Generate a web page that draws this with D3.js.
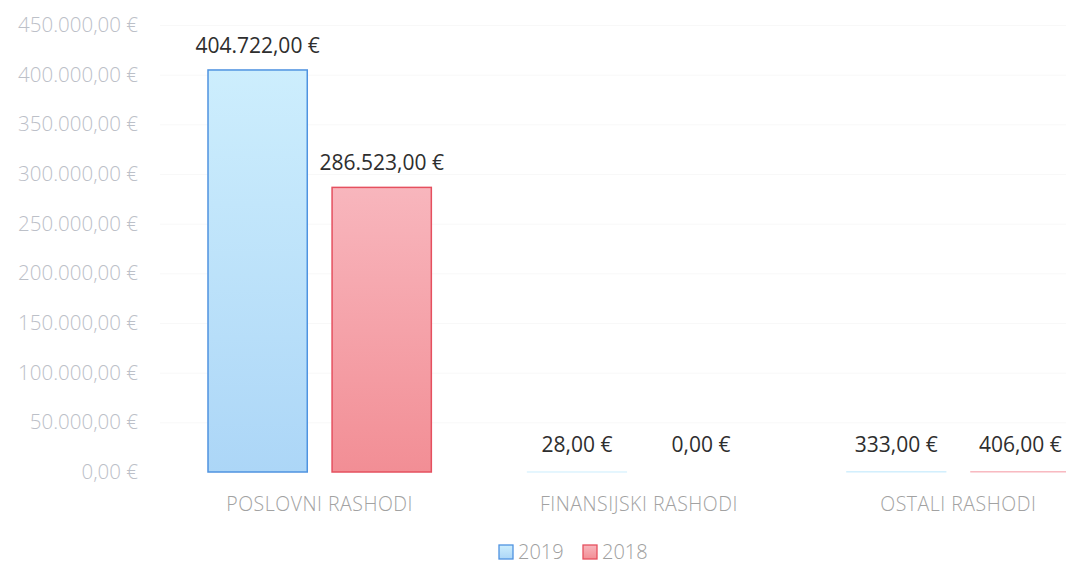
<!DOCTYPE html>
<html>
<head>
<meta charset="utf-8">
<script src="https://cdn.jsdelivr.net/npm/d3@7"></script>
<style>
  html, body { margin: 0; padding: 0; background: #fff; }
  #chart { width: 1066px; height: 564px; }
  text { font-family: 'Open Sans', 'DejaVu Sans', sans-serif; }
</style>
</head>
<body>
<div id="chart"></div>
<script>
const categories = ['POSLOVNI RASHODI', 'FINANSIJSKI RASHODI', 'OSTALI RASHODI'];
const seriesNames = ['2019', '2018'];
const values2019 = [404722, 28, 333];
const values2018 = [286523, 0, 406];
const yTicks = [0, 50000, 100000, 150000, 200000, 250000, 300000, 350000, 400000, 450000];

const width = 1066;
const height = 564;

const euro = d3.formatLocale({ decimal: ',', thousands: '.', grouping: [3], currency: ['', ' €'] }).format('$,.2f');

const svg = d3.select('#chart')
  .append('svg')
    .attr('width', width)
    .attr('height', height);

const defs = svg.append('defs');
const palette = [
  { id: 'g2019', top: '#cdeefd', bottom: '#acd6f7', stroke: '#4f93e0' },
  { id: 'g2018', top: '#f8b6bd', bottom: '#f28e95', stroke: '#e5505f' }
];
palette.forEach(p => {
  const g = defs.append('linearGradient')
    .attr('id', p.id).attr('x1', 0).attr('y1', 0).attr('x2', 0).attr('y2', 1);
  g.append('stop').attr('offset', '0%').attr('stop-color', p.top);
  g.append('stop').attr('offset', '100%').attr('stop-color', p.bottom);
});

const y = d3.scaleLinear().domain([0, 450000]).range([472, 25]);
const x0 = d3.scaleBand().domain(categories).range([160, 1118]).paddingInner(0).paddingOuter(0);
const x1 = d3.scaleBand().domain(seriesNames).range([48, x0.bandwidth() - 48]).paddingInner(0.2);

// faint grid
svg.append('g')
  .selectAll('line')
  .data(yTicks.slice(1))
  .enter()
  .append('line')
    .attr('x1', 160).attr('x2', width)
    .attr('y1', d => y(d) + 0.5).attr('y2', d => y(d) + 0.5)
    .attr('stroke', '#f8f8f8');

// y axis labels
const yAxis = svg.append('g')
  .attr('transform', 'translate(138,0)')
  .call(d3.axisLeft(y).tickValues(yTicks).tickFormat(euro).tickSize(0).tickPadding(0));
yAxis.select('.domain').remove();
yAxis.selectAll('text')
  .attr('font-size', 20.5)
  .attr('font-weight', 300)
  .attr('font-family', "'Open Sans', sans-serif")
  .attr('fill', '#bcc0c8');

const rows = categories.map((c, i) => ({ cat: c, vals: [values2019[i], values2018[i]] }));

const group = svg.append('g')
  .selectAll('g')
  .data(rows)
  .enter()
  .append('g')
    .attr('transform', d => `translate(${x0(d.cat)},0)`);

group.selectAll('rect')
  .data(d => d.vals.map((v, k) => ({ key: seriesNames[k], v: v, k: k })))
  .enter()
  .append('rect')
    .attr('x', d => x1(d.key))
    .attr('width', x1.bandwidth())
    .attr('y', d => y(d.v))
    .attr('height', d => Math.max(0, y(0) - y(d.v)))
    .attr('fill', d => `url(#${palette[d.k].id})`)
    .attr('stroke', d => d.v > 1000 ? palette[d.k].stroke : (d.v > 0 ? palette[d.k].top : 'none'))
    .attr('stroke-width', d => d.v > 1000 ? 1.5 : 1);

group.selectAll('text.val')
  .data(d => d.vals.map((v, k) => ({ key: seriesNames[k], v: v, k: k })))
  .enter()
  .append('text')
    .attr('class', 'val')
    .attr('x', d => x1(d.key) + x1.bandwidth() / 2)
    .attr('y', d => y(d.v) - (d.v > 1000 ? 17 : 20))
    .attr('text-anchor', 'middle')
    .attr('font-size', 21)
    .attr('fill', '#2e2e2e')
    .text(d => euro(d.v));

// category labels
svg.append('g')
  .selectAll('text')
  .data(categories)
  .enter()
  .append('text')
    .attr('x', d => x0(d) + x0.bandwidth() / 2)
    .attr('y', 511)
    .attr('text-anchor', 'middle')
    .attr('font-size', 19.5)
    .attr('font-weight', 300)
    .attr('letter-spacing', 0.5)
    .attr('fill', '#a2a2a2')
    .text(d => d);

// legend
const legend = svg.append('g')
  .selectAll('g')
  .data(seriesNames)
  .enter()
  .append('g')
    .attr('transform', (d, i) => `translate(${499 + i * 84},545)`);
legend.append('rect')
  .attr('width', 14).attr('height', 14)
  .attr('fill', (d, i) => `url(#${palette[i].id})`)
  .attr('stroke', (d, i) => palette[i].stroke)
  .attr('stroke-width', 1.3);
legend.append('text')
  .attr('x', 19).attr('y', 14)
  .attr('font-size', 20)
  .attr('font-weight', 300)
  .attr('fill', '#a0a0a0')
  .text(d => d);
</script>
</body>
</html>
